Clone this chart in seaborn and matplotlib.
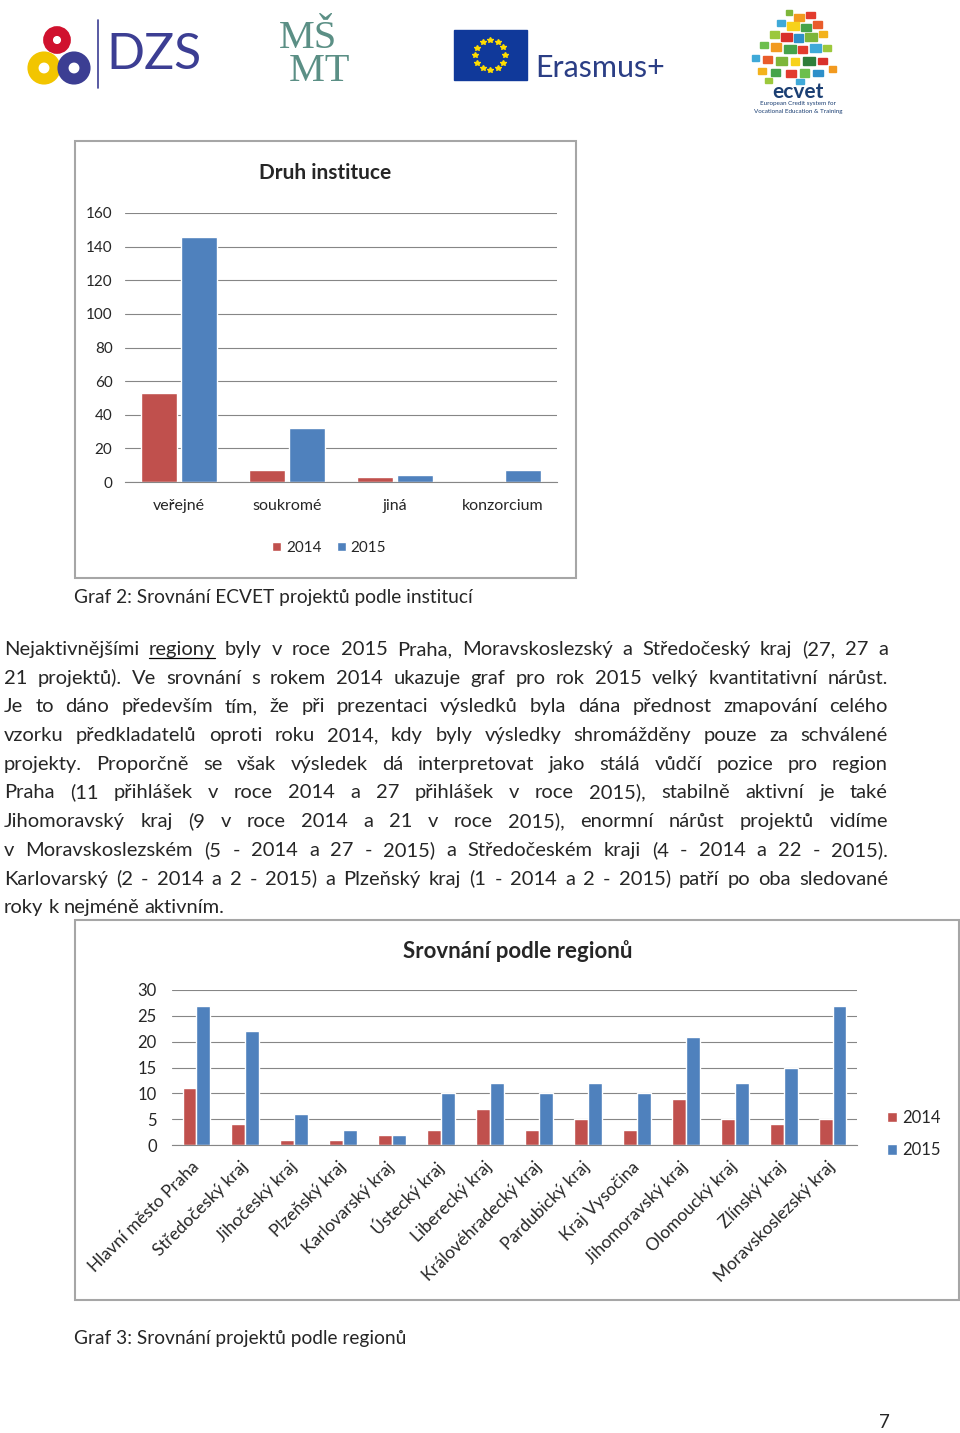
import numpy as np
import pandas as pd
import matplotlib
matplotlib.use('Agg')
import matplotlib.pyplot as plt
import matplotlib.patches as mpatches
from matplotlib.lines import Line2D
import seaborn as sns

# --- data -------------------------------------------------------------
instituce = ['veřejné', 'soukromé', 'jiná', 'konzorcium']
inst_2014 = [53, 7, 3, 0]
inst_2015 = [146, 32, 4, 7]

regiony = ['Hlavní město Praha', 'Středočeský kraj', 'Jihočeský kraj', 'Plzeňský kraj',
           'Karlovarský kraj', 'Ústecký kraj', 'Liberecký kraj', 'Královéhradecký kraj',
           'Pardubický kraj', 'Kraj Vysočina', 'Jihomoravský kraj', 'Olomoucký kraj',
           'Zlínský kraj', 'Moravskoslezský kraj']
reg_2014 = [11, 4, 1, 1, 2, 3, 7, 3, 5, 3, 9, 5, 4, 5]
reg_2015 = [27, 22, 6, 3, 2, 10, 12, 10, 12, 10, 21, 12, 15, 27]

roky = ['2014', '2015']
barvy = ['#C0504D', '#4F81BD']

odstavec = [
    'Nejaktivnějšími regiony byly v roce 2015 Praha, Moravskoslezský a Středočeský kraj (27, 27 a',
    '21 projektů). Ve srovnání s rokem 2014 ukazuje graf pro rok 2015 velký kvantitativní nárůst.',
    'Je to dáno především tím, že při prezentaci výsledků byla dána přednost zmapování celého',
    'vzorku předkladatelů oproti roku 2014, kdy byly výsledky shromážděny pouze za schválené',
    'projekty. Proporčně se však výsledek dá interpretovat jako stálá vůdčí pozice pro region',
    'Praha (11 přihlášek v roce 2014 a 27 přihlášek v roce 2015), stabilně aktivní je také',
    'Jihomoravský kraj (9 v roce 2014 a 21 v roce 2015), enormní nárůst projektů vidíme',
    'v Moravskoslezském (5 - 2014 a 27 - 2015) a Středočeském kraji (4 - 2014 a 22 - 2015).',
    'Karlovarský (2 - 2014 a 2 - 2015) a Plzeňský kraj (1 - 2014 a 2 - 2015) patří po oba sledované',
    'roky k nejméně aktivním.',
]

# --- page setup --------------------------------------------------------
sns.set_style('white')
plt.rcParams['font.family'] = ['Lato', 'DejaVu Sans']

W, H = 960, 1433
fig = plt.figure(figsize=(W / 100, H / 100), dpi=100)
fig.patch.set_facecolor('white')


def fx(x):
    return x / W


def fy(y):
    return 1 - y / H


def ramecek(x0, y0, x1, y1):
    fig.patches.append(mpatches.Rectangle((fx(x0), fy(y1)), (x1 - x0) / W, (y1 - y0) / H,
                                          transform=fig.transFigure, fill=False,
                                          edgecolor='#A6A6A6', lw=1.5, zorder=5))


# --- logos (decorative) -----------------------------------------------
lax = fig.add_axes([0, fy(130), 1, 130 / H])
lax.set_xlim(0, W)
lax.set_ylim(130, 0)
lax.axis('off')

# DZS
lax.add_patch(mpatches.Circle((57, 40), 9, fill=False, lw=7, edgecolor='#D0122E'))
lax.add_patch(mpatches.Circle((44, 68), 11, fill=False, lw=8, edgecolor='#F2C500'))
lax.add_patch(mpatches.Circle((74, 68), 11, fill=False, lw=8, edgecolor='#3C3E93'))
lax.plot([98, 98], [20, 88], color='#3C3E93', lw=1.2)
lax.text(106, 55, 'DZS', fontsize=36, color='#3C3E93', va='center', ha='left')

# MŠMT
lax.text(279, 55, 'MŠ\n MT', fontsize=29, color='#5B8F85', va='center', ha='left',
         linespacing=0.85, family=['Liberation Serif', 'DejaVu Serif'])

# Erasmus+
lax.add_patch(mpatches.Rectangle((454, 30), 73, 50, color='#10399A'))
uhly = np.linspace(0, 2 * np.pi, 13)[:-1]
lax.plot(490 + 15 * np.cos(uhly), 55 + 15 * np.sin(uhly), ls='none', marker='*',
         ms=4, color='#FFDD00')
lax.text(535, 68, 'Erasmus+', fontsize=22, color='#2B3E85', va='center', ha='left')

# ECVET
mozaika = [
    (786, 10, 6, 5, '#7DB63A'), (794, 14, 10, 7, '#F29A1F'), (806, 12, 9, 6, '#E23B2E'),
    (777, 20, 8, 6, '#3FA9D8'), (787, 22, 12, 8, '#F7D21B'), (801, 24, 10, 7, '#45A34A'),
    (813, 21, 9, 7, '#E95C2B'), (770, 31, 9, 7, '#9CC83C'), (781, 33, 11, 8, '#D9312B'),
    (794, 34, 9, 8, '#2D8FC9'), (805, 33, 12, 8, '#7DB63A'), (819, 31, 8, 6, '#F3B21C'),
    (760, 42, 8, 6, '#6CBF4D'), (771, 43, 10, 8, '#F29A1F'), (784, 45, 12, 8, '#45A34A'),
    (798, 46, 9, 7, '#E23B2E'), (810, 44, 11, 8, '#3FA9D8'), (823, 45, 8, 6, '#9CC83C'),
    (752, 55, 7, 6, '#3FA9D8'), (763, 56, 9, 7, '#E95C2B'), (776, 57, 11, 8, '#7DB63A'),
    (791, 58, 8, 7, '#F7D21B'), (803, 57, 12, 8, '#2E7D3A'), (818, 58, 9, 6, '#D9312B'),
    (758, 68, 8, 6, '#F3B21C'), (771, 69, 9, 7, '#45A34A'), (786, 70, 10, 7, '#E23B2E'),
    (800, 69, 9, 8, '#6CBF4D'), (813, 70, 10, 6, '#2D8FC9'), (829, 66, 7, 6, '#F29A1F'),
    (765, 78, 7, 5, '#9CC83C'), (796, 79, 8, 5, '#3FA9D8'),
]
for x, y, w, h, c in mozaika:
    lax.add_patch(mpatches.Rectangle((x, y), w, h, color=c))
lax.text(798, 92, 'ecvet', fontsize=15, color='#1B3F73', fontweight='bold', ha='center', va='center')
lax.text(798, 104, 'European Credit system for', fontsize=4.5, color='#1B3F73', ha='center', va='center')
lax.text(798, 112, 'Vocational Education & Training', fontsize=4.5, color='#1B3F73', ha='center', va='center')

# --- chart 1: Druh instituce --------------------------------------------
ramecek(75, 141, 576, 578)
ax1 = fig.add_axes([fx(125), fy(482), 432 / W, 269 / H])
df1 = pd.DataFrame({'druh': instituce * 2,
                    'rok': [roky[0]] * len(instituce) + [roky[1]] * len(instituce),
                    'pocet': inst_2014 + inst_2015})
sns.barplot(data=df1, x='druh', y='pocet', hue='rok', palette=barvy, saturation=1,
            width=0.75, gap=0.11, errorbar=None, ax=ax1)
ax1.set_xlim(-0.5, len(instituce) - 0.5)
ax1.set_ylim(0, 160)
ax1.set_yticks(range(0, 161, 20))
ax1.set_xlabel('')
ax1.set_ylabel('')
ax1.yaxis.grid(True, color='#868686', lw=0.8)
ax1.set_axisbelow(True)
for s in ['left', 'top', 'right']:
    ax1.spines[s].set_visible(False)
ax1.spines['bottom'].set_color('#868686')
ax1.spines['bottom'].set_linewidth(0.8)
ax1.tick_params(axis='y', length=0, pad=9, labelsize=11)
ax1.tick_params(axis='x', length=0, pad=12, labelsize=11.5)
ax1.legend(loc='center', bbox_to_anchor=(fx(329), fy(548)), bbox_transform=fig.transFigure,
           ncol=2, frameon=False, fontsize=11, handlelength=0.6, handleheight=0.6,
           handletextpad=0.3, columnspacing=1.0)
fig.text(fx(325), fy(173), 'Druh instituce', ha='center', va='center',
         fontsize=15, fontweight='bold')

fig.text(fx(74), fy(603), 'Graf 2: Srovnání ECVET projektů podle institucí',
         fontsize=13.8, va='baseline', ha='left')

# --- justified paragraph ------------------------------------------------
renderer = fig.canvas.get_renderer()
FS = 14.5
t_a = fig.text(0, 0, 'aa', fontsize=FS)
t_b = fig.text(0, 0, 'a a', fontsize=FS)
mezera_px = t_b.get_window_extent(renderer).width - t_a.get_window_extent(renderer).width
t_a.remove()
t_b.remove()


def radek(text, y, x0=4, x1=888, zarovnat=True, podtrhnout=None):
    slova = text.split()
    objs = [fig.text(0, fy(y), s, fontsize=FS, va='baseline', ha='left') for s in slova]
    sirky = [o.get_window_extent(renderer).width for o in objs]
    if zarovnat and len(slova) > 1:
        mezera = (x1 - x0 - sum(sirky)) / (len(slova) - 1)
    else:
        mezera = mezera_px
    x = x0
    for o, s, w in zip(objs, slova, sirky):
        o.set_x(fx(x))
        if s == podtrhnout:
            fig.lines.append(Line2D([fx(x), fx(x + w)], [fy(y + 3), fy(y + 3)],
                                    transform=fig.transFigure, color='black', lw=0.9))
        x += w + mezera


for i, r in enumerate(odstavec):
    posledni = i == len(odstavec) - 1
    radek(r, 655 + 28.7 * i, zarovnat=not posledni,
          podtrhnout='regiony' if i == 0 else None)

# --- chart 2: Srovnání podle regionů ------------------------------------
ramecek(75, 920, 959, 1300)
ax2 = fig.add_axes([fx(172), fy(1145), 685 / W, 155 / H])
df2 = pd.DataFrame({'region': regiony * 2,
                    'rok': [roky[0]] * len(regiony) + [roky[1]] * len(regiony),
                    'pocet': reg_2014 + reg_2015})
sns.barplot(data=df2, x='region', y='pocet', hue='rok', palette=barvy, saturation=1,
            width=0.57, gap=0, errorbar=None, ax=ax2)
ax2.set_xlim(-0.5, len(regiony) - 0.5)
ax2.set_ylim(0, 30)
ax2.set_yticks(range(0, 31, 5))
ax2.set_xlabel('')
ax2.set_ylabel('')
ax2.yaxis.grid(True, color='#868686', lw=0.8)
ax2.set_axisbelow(True)
for s in ['left', 'top', 'right']:
    ax2.spines[s].set_visible(False)
ax2.spines['bottom'].set_color('#868686')
ax2.spines['bottom'].set_linewidth(0.8)
ax2.tick_params(axis='y', length=0, pad=11, labelsize=12)
ax2.tick_params(axis='x', length=0, pad=14, labelsize=12.5)
ax2.set_xticks(range(len(regiony)))
ax2.set_xticklabels(regiony, rotation=45, ha='right', va='center', rotation_mode='anchor')
ax2.legend(loc='center', bbox_to_anchor=(fx(914), fy(1134)), bbox_transform=fig.transFigure,
           ncol=1, frameon=False, fontsize=12, handlelength=0.6, handleheight=0.6,
           handletextpad=0.3, labelspacing=1.0)
fig.text(fx(518), fy(951), 'Srovnání podle regionů', ha='center', va='center',
         fontsize=16, fontweight='bold')

fig.text(fx(74), fy(1344), 'Graf 3: Srovnání projektů podle regionů',
         fontsize=13.8, va='baseline', ha='left')
fig.text(fx(884), fy(1428), '7', fontsize=13.5, va='baseline', ha='center')

fig.savefig('out.png', dpi=100, facecolor='white')
